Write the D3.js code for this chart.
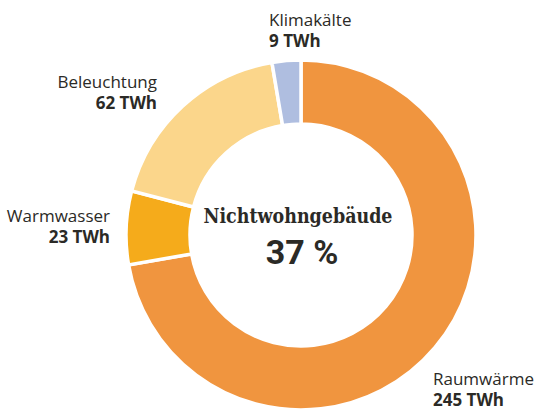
<!DOCTYPE html>
<meta charset="utf-8">
<html>
<head><title>Nichtwohngebäude donut</title>
<script src="https://cdn.jsdelivr.net/npm/d3@7"></script>
<style>
    body { margin: 0; background: #fff; }
    .lbl { font-family: "Open Sans", "Noto Sans", sans-serif; font-size: 17px; fill: #2b2a26; }
    .val { font-weight: bold; }
</style>
</head>
<body>
<script>
// slice data, clockwise from 12 o'clock
var categories = ["Raumwärme", "Warmwasser", "Beleuchtung", "Klimakälte"];
var values = [245, 23, 62, 9];
var unit = "TWh";
var colors = ["#f0953f", "#f5ab1b", "#fbd68b", "#afbee0"];
var centerTitle = "Nichtwohngebäude";
var centerValue = "37 %";

var width = 536, height = 411;
var cx = 301, cy = 235;
var outerR = 175, innerR = 111;
var lineGap = 21;

// label anchor spots (x, baseline of first line, text-anchor)
var labelPos = [
    [433, 385, "start"],
    [110, 222, "end"],
    [157, 88, "end"],
    [269, 26, "start"]
];

var svg = d3.select("body").append("svg")
    .attr("width", width)
    .attr("height", height);

var pie = d3.pie().sort(null).value(function(d) { return d; });
var arc = d3.arc().innerRadius(innerR).outerRadius(outerR);

var g = svg.append("g").attr("transform", "translate(" + cx + "," + cy + ")");

g.selectAll("path")
    .data(pie(values))
    .enter().append("path")
    .attr("d", arc)
    .attr("fill", function(d, i) { return colors[i]; })
    .attr("stroke", "#fff")
    .attr("stroke-width", 3.5)
    .attr("stroke-linejoin", "miter");

// category name line
svg.selectAll("text.name")
    .data(categories)
    .enter().append("text")
    .attr("class", "lbl name")
    .attr("x", function(d, i) { return labelPos[i][0]; })
    .attr("y", function(d, i) { return labelPos[i][1]; })
    .attr("text-anchor", function(d, i) { return labelPos[i][2]; })
    .text(function(d) { return d; });

// value line
svg.selectAll("text.val")
    .data(values)
    .enter().append("text")
    .attr("class", "lbl val")
    .attr("x", function(d, i) { return labelPos[i][0]; })
    .attr("y", function(d, i) { return labelPos[i][1] + lineGap; })
    .attr("text-anchor", function(d, i) { return labelPos[i][2]; })
    .text(function(d) { return d + " " + unit; });

svg.append("text")
    .attr("x", 298).attr("y", 223)
    .attr("text-anchor", "middle")
    .style("font-family", "'DejaVu Serif', serif")
    .style("font-weight", "bold")
    .style("font-size", "20px")
    .style("fill", "#2b2a26")
    .attr("textLength", 189)
    .attr("lengthAdjust", "spacingAndGlyphs")
    .text(centerTitle);

svg.append("text")
    .attr("x", 302).attr("y", 264)
    .attr("text-anchor", "middle")
    .style("font-family", "Roboto, sans-serif")
    .style("font-weight", "bold")
    .style("font-size", "34px")
    .style("fill", "#2b2a26")
    .text(centerValue);
</script>
</body>
</html>
